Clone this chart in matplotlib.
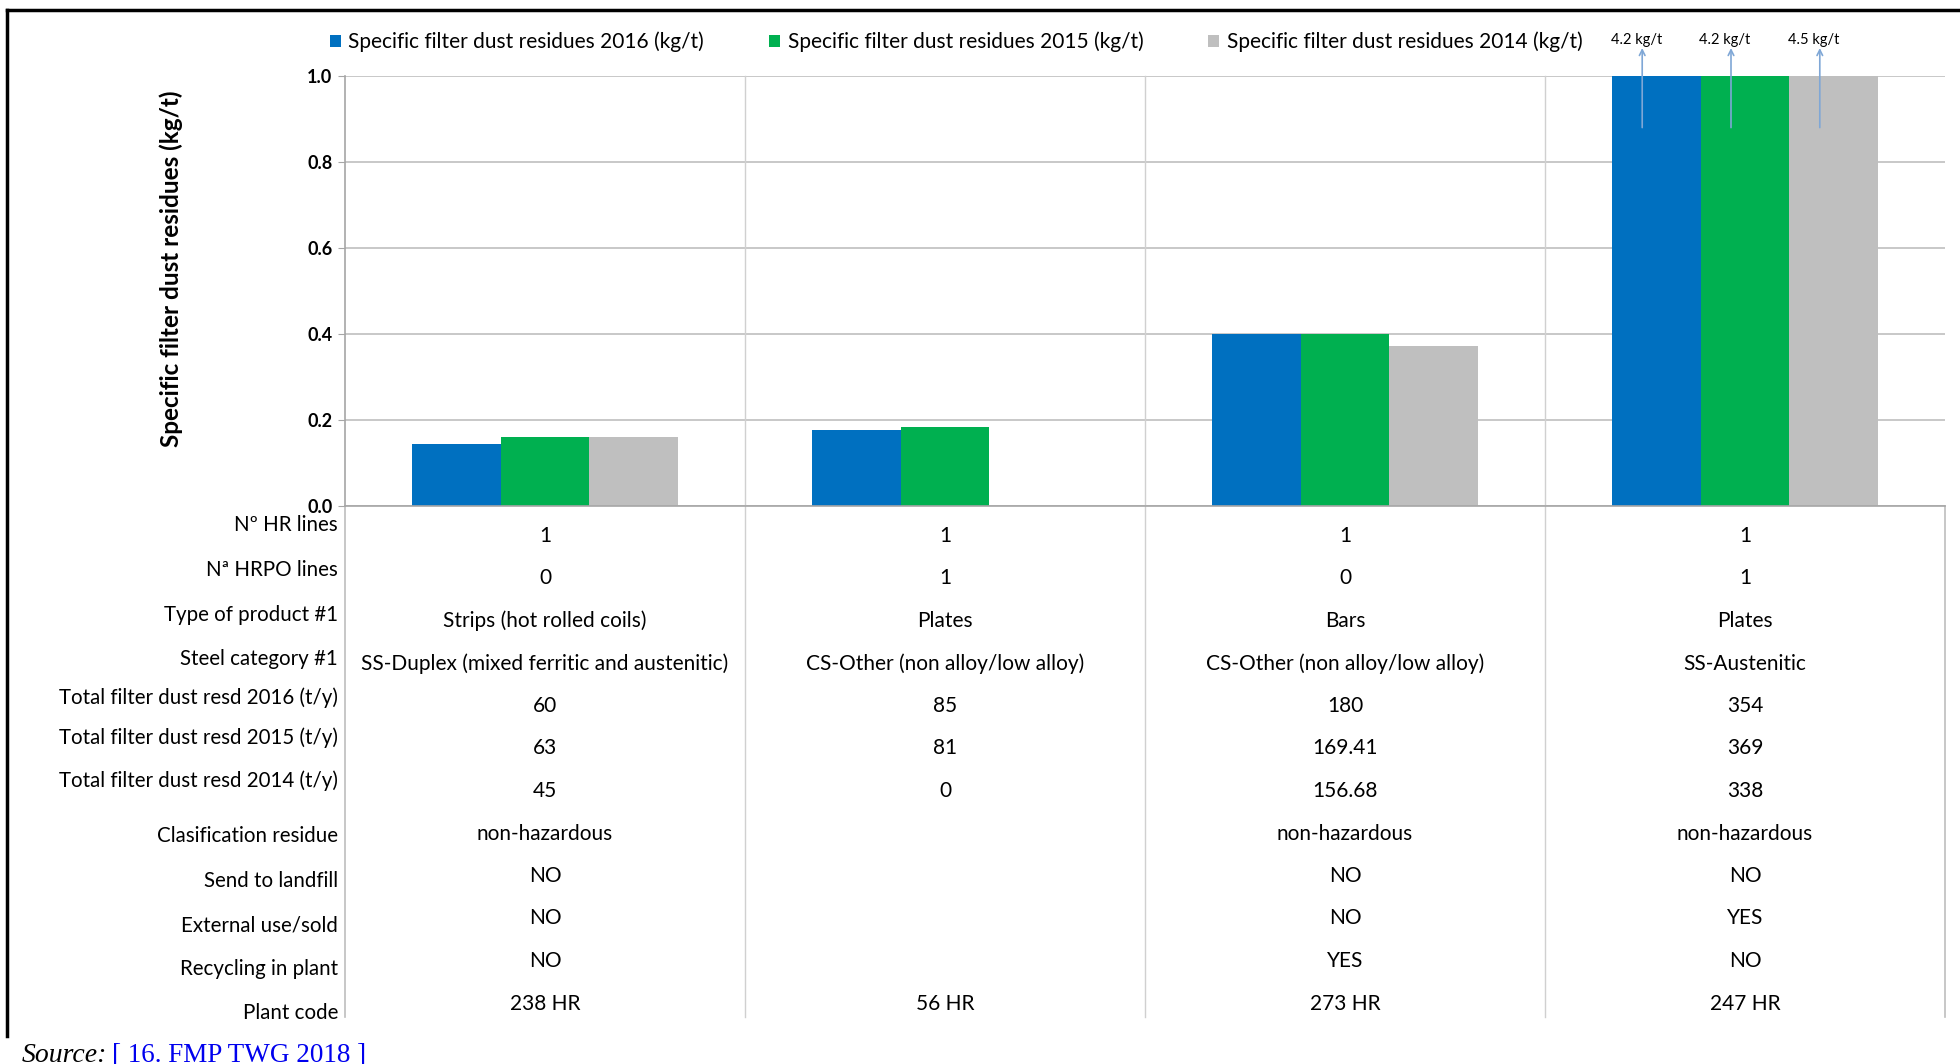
import numpy as np
import matplotlib
matplotlib.use('Agg')
import matplotlib.pyplot as plt
from matplotlib.lines import Line2D
import matplotlib.transforms as mtransforms

plt.rcParams['font.family'] = ['Lato', 'DejaVu Sans']

# data
plants = ['238 HR', '56 HR', '273 HR', '247 HR']
spec_2016 = [0.145, 0.177, 0.40, 4.2]
spec_2015 = [0.16, 0.183, 0.40, 4.2]
spec_2014 = [0.16, 0.0, 0.372, 4.5]

row_labels = ['Nº HR lines', 'Nª HRPO lines', 'Type of product #1', 'Steel category #1',
              'Total filter dust resd 2016 (t/y)', 'Total filter dust resd 2015 (t/y)',
              'Total filter dust resd 2014 (t/y)', 'Clasification residue',
              'Send to landfill', 'External use/sold', 'Recycling in plant', 'Plant code']
hr_lines = ['1', '1', '1', '1']
hrpo_lines = ['0', '1', '0', '1']
product = ['Strips (hot rolled coils)', 'Plates', 'Bars', 'Plates']
steel_cat = ['SS-Duplex (mixed ferritic and austenitic)', 'CS-Other (non alloy/low alloy)',
             'CS-Other (non alloy/low alloy)', 'SS-Austenitic']
total_2016 = ['60', '85', '180', '354']
total_2015 = ['63', '81', '169.41', '369']
total_2014 = ['45', '0', '156.68', '338']
classification = ['non-hazardous', '', 'non-hazardous', 'non-hazardous']
landfill = ['NO', '', 'NO', 'NO']
external = ['NO', '', 'NO', 'YES']
recycling = ['NO', '', 'YES', 'NO']
table_rows = [hr_lines, hrpo_lines, product, steel_cat, total_2016, total_2015,
              total_2014, classification, landfill, external, recycling, plants]

blue, green, grey = '#0070C0', '#00B050', '#BFBFBF'
W, H = 1960, 1064

def fx(px):
    return px / W

def fy(py):
    return 1 - py / H

fig = plt.figure(figsize=(19.6, 10.64), dpi=100)
ax = fig.add_axes([fx(345), fy(506), 1600 / W, 430 / H])

x = np.arange(len(plants)) + 0.5
w = 0.222
b1 = ax.bar(x - w, spec_2016, w, color=blue)
b2 = ax.bar(x, spec_2015, w, color=green)
b3 = ax.bar(x + w, spec_2014, w, color=grey)

ax.set_xlim(0, len(plants))
ax.set_ylim(0, 1.0)
ax.set_yticks(np.arange(0, 1.01, 0.2))
ax.set_yticklabels([f'{v:.1f}' for v in np.arange(0, 1.01, 0.2)], fontweight='bold', fontsize=13)
ax.set_xticks([])
ax.yaxis.grid(True, color='#BFBFBF', linewidth=1.2)
ax.set_axisbelow(True)
ax.tick_params(axis='y', length=5, color='#A6A6A6', pad=4)
for s in ['top', 'right']:
    ax.spines[s].set_visible(False)
for s in ['left', 'bottom']:
    ax.spines[s].set_color('#A6A6A6')
    ax.spines[s].set_linewidth(1.2)

# column dividers through plot area and table
trans = mtransforms.blended_transform_factory(ax.transData, ax.transAxes)
bottom_ax = -(1017 - 506) / 430
for xd in range(1, len(plants)):
    ax.plot([xd, xd], [1, bottom_ax], transform=trans, color='#D0D0D0', lw=1, clip_on=False)
for xd in [0, len(plants)]:
    ax.plot([xd, xd], [0, bottom_ax], transform=trans, color='#BDBDBD', lw=1.2, clip_on=False)

# off-scale arrows for the last plant
for xi, v in zip([x[-1] - w, x[-1], x[-1] + w], [spec_2016[-1], spec_2015[-1], spec_2014[-1]]):
    ax.annotate('', xy=(xi - 0.035, 1.065), xytext=(xi - 0.035, 0.88),
                arrowprops=dict(arrowstyle='->', color='#7FA7D6', lw=1.2, shrinkA=0, shrinkB=0),
                annotation_clip=False)
    ax.text(xi - 0.05, 1.068, f'{v:.1f} kg/t', ha='center', va='bottom', fontsize=10.5, clip_on=False)

fig.text(fx(171), fy(269), 'Specific filter dust residues (kg/t)', rotation=90,
         ha='center', va='center', fontsize=17.5, fontweight='bold')

# legend
ax.legend([b1, b2, b3],
          ['Specific filter dust residues 2016 (kg/t)', 'Specific filter dust residues 2015 (kg/t)',
           'Specific filter dust residues 2014 (kg/t)'],
          ncol=3, loc='center', bbox_to_anchor=(fx(956), fy(42)), bbox_transform=fig.transFigure,
          frameon=False, fontsize=15, handlelength=0.55, handleheight=0.55, handletextpad=0.35,
          columnspacing=3.1)

# data table
label_y = [525, 570, 615, 659, 698, 738, 781, 836, 881, 925, 969, 1013]
ttrans = mtransforms.blended_transform_factory(ax.transData, fig.transFigure)
for i, (lab, vals) in enumerate(zip(row_labels, table_rows)):
    fig.text(fx(338), fy(label_y[i]), lab, ha='right', va='center', fontsize=14.8)
    for xi, v in zip(x, vals):
        ax.text(xi, fy(536 + 42.5 * i), v, transform=ttrans, ha='center', va='center', fontsize=15)

# frame and source
fig.add_artist(Line2D([fx(7), fx(1960)], [fy(10), fy(10)], color='black', lw=2.5))
fig.add_artist(Line2D([fx(7), fx(7)], [fy(10), fy(1036)], color='black', lw=2.5))
fig.text(fx(22), fy(1055), 'Source:', fontsize=20, style='italic', family='Liberation Serif',
         va='center', ha='left')
fig.text(fx(112), fy(1055), '[ 16. FMP TWG 2018 ]', fontsize=19.5, family='Liberation Serif',
         color='#0000EE', va='center', ha='left')

fig.savefig('out.png', dpi=100)
